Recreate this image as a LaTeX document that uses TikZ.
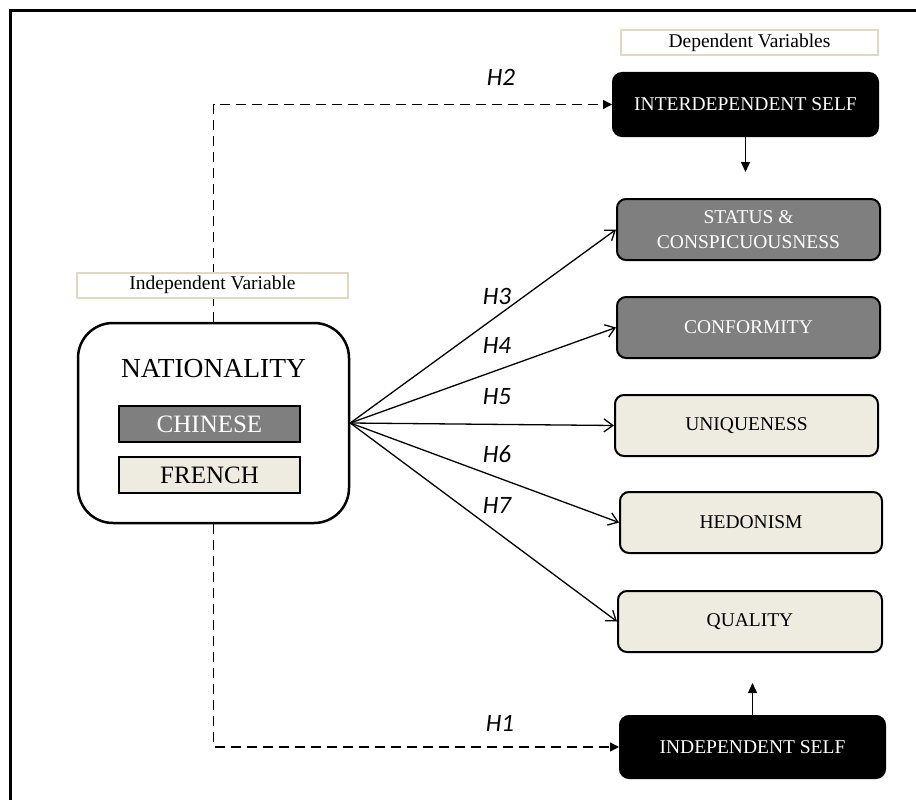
\documentclass[tikz,border=0pt]{standalone}
\usepackage{fontspec}
\setmainfont{Liberation Serif}
\newfontfamily\hfont{Carlito}
\usetikzlibrary{arrows.meta}
\definecolor{boxgray}{HTML}{7F7F7F}
\definecolor{beige}{HTML}{EEECE1}
\definecolor{tanline}{HTML}{DDD9C3}
\begin{document}
\begin{tikzpicture}[x=1pt,y=-1pt,
  box/.style={draw=black, line width=2pt, rounded corners=9pt, minimum width=263pt, minimum height=61pt, inner sep=0pt, font=\fontsize{19.5}{25}\selectfont, align=center},
  darkbox/.style={box, fill=black, text=white},
  graybox/.style={box, fill=boxgray, text=white},
  lightbox/.style={box, fill=beige, text=black},
  labelbox/.style={draw=tanline, line width=2pt, fill=white, minimum height=25pt, inner sep=0pt, font=\fontsize{19.5}{24}\selectfont},
  natbox/.style={draw=black, line width=2.5pt, rounded corners=35pt, fill=white, minimum width=271pt, minimum height=200pt, inner sep=0pt},
  nationbox/.style={draw=black, line width=2.5pt, minimum width=181pt, minimum height=36pt, inner sep=0pt, font=\fontsize{25}{30}\selectfont},
  hyp/.style={font=\hfont\itshape\fontsize{25}{30}\selectfont, inner sep=0pt},
  fanarrow/.style={line width=1.3pt, -{Straight Barb[length=9pt,width=13pt,line width=1.3pt]}},
  dasharrow/.style={line width=1.4pt, dash pattern=on 10pt off 6pt, -{Triangle[length=9pt,width=9pt]}},
  solidarrow/.style={line width=1.3pt, -{Triangle[length=10pt,width=9pt]}}
]
\useasboundingbox (0,0) rectangle (916,800);
\draw[line width=3pt] (916,10.5) -- (10.5,10.5) -- (10.5,800);

% dependent side
\node[labelbox, minimum width=257pt] (dep) at (749.5,43) {Dependent Variables};
\node[darkbox, minimum width=265pt, minimum height=63pt] (inter) at (745.5,104.5) {INTERDEPENDENT SELF};
\node[graybox] (status) at (748.5,229.5) {STATUS \&\\CONSPICUOUSNESS};
\node[graybox] (conf) at (748.5,327.5) {CONFORMITY};
\node[lightbox] (uniq) at (746.5,425.5) {UNIQUENESS};
\node[lightbox, minimum width=262pt] (hed) at (751,522.5) {HEDONISM};
\node[lightbox, minimum width=264pt] (qual) at (750,621.5) {QUALITY};
\node[darkbox, minimum width=265pt, minimum height=62pt] (indep) at (752.5,747) {INDEPENDENT SELF};

% independent side
\node[natbox] (nat) at (213.5,423) {};

% dashed connectors (drawn before the label box that covers them)
\draw[dasharrow] (nat.north) |- (inter.west);
\draw[dasharrow] (nat.south) |- (indep.west);

\node[labelbox, minimum width=271pt] (indvar) at (212.5,285) {Independent Variable};
\node[font=\fontsize{27.5}{32}\selectfont, inner sep=0pt] (nattitle) at (213.5,369) {NATIONALITY};
\node[nationbox, fill=boxgray, text=white] (chinese) at (209.5,424) {CHINESE};
\node[nationbox, fill=beige, text=black] (french) at (209.5,475) {FRENCH};

% coordinates for free ends
\coordinate (dtip) at (745.5,172);
\coordinate (utip) at (752.5,683);

\draw[solidarrow] (inter.south) -- (dtip);
\draw[solidarrow] (indep.north) -- (utip);

\draw[fanarrow] (nat.east) -- (status.west);
\draw[fanarrow] (nat.east) -- (conf.west);
\draw[fanarrow] (nat.east) -- (uniq.west);
\draw[fanarrow] (nat.east) -- (hed.west);
\draw[fanarrow] (nat.east) -- (qual.west);

% hypothesis labels
\node[hyp] (h2) at (501,77) {H2};
\node[hyp] (h3) at (497,296) {H3};
\node[hyp] (h4) at (497,345) {H4};
\node[hyp] (h5) at (497,397) {H5};
\node[hyp] (h6) at (497,454) {H6};
\node[hyp] (h7) at (497,505) {H7};
\node[hyp] (h1) at (500,723) {H1};
\end{tikzpicture}
\end{document}
